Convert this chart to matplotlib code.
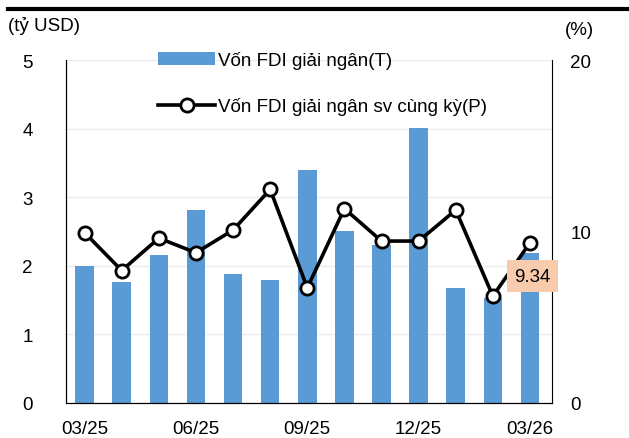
import matplotlib
matplotlib.use("Agg")
import matplotlib.pyplot as plt
import numpy as np

plt.rcParams['font.family'] = ['Liberation Sans', 'DejaVu Sans']

months = ['03/25', '04/25', '05/25', '06/25', '07/25', '08/25', '09/25',
          '10/25', '11/25', '12/25', '01/26', '02/26', '03/26']
fdi = [2.00, 1.77, 2.16, 2.82, 1.88, 1.79, 3.39, 2.50, 2.30, 4.01, 1.67, 1.53, 2.19]
growth = [9.93, 7.72, 9.61, 8.76, 10.08, 12.45, 6.71, 11.33, 9.44, 9.44, 11.25, 6.23, 9.34]
shown_ticks = ['03/25', '06/25', '09/25', '12/25', '03/26']

fig = plt.figure(figsize=(6.29, 4.39), dpi=100)
ax = fig.add_axes([0.105, 0.080, 0.773, 0.781])
ax2 = ax.twinx()

x = np.arange(len(months))
bars = ax.bar(x, fdi, width=0.5, color='#5B9BD5', zorder=2,
              label='Vốn FDI giải ngân(T)')
line, = ax2.plot(x, growth, color='black', lw=2.6, marker='o', ms=9.5,
                 mfc='white', mec='black', mew=2, zorder=3,
                 label='Vốn FDI giải ngân sv cùng kỳ(P)')

ax.set_xlim(-0.5, 12.6)
ax.set_ylim(0, 5)
ax2.set_ylim(0, 20)
ax.set_yticks([0, 1, 2, 3, 4, 5])
ax2.set_yticks([0, 10, 20])
ax.grid(axis='y', color='#EBEBEB', lw=1, zorder=0)
ax.set_axisbelow(True)

idx = [months.index(m) for m in shown_ticks]
ax.set_xticks(idx)
ax.set_xticklabels(shown_ticks)

for a in (ax, ax2):
    a.spines['top'].set_visible(False)
    a.tick_params(length=0, labelsize=13.5)
ax.tick_params(axis='y', pad=24)
ax.tick_params(axis='x', pad=12)
ax2.tick_params(axis='y', pad=13)
ax.spines['right'].set_visible(False)

ax2.annotate(f'{growth[-1]:.2f}', xy=(x[-1], growth[-1]), xytext=(2, -24),
             textcoords='offset points', ha='center', va='center', fontsize=13.5,
             bbox=dict(boxstyle='square,pad=0.4', fc='#F8CBAD', ec='none'))

fig.legend([bars, line], [bars.get_label(), line.get_label()],
           loc='upper left', bbox_to_anchor=(0.225, 0.92), frameon=False,
           fontsize=13.5, handlelength=3.0, handletextpad=0.2, labelspacing=1.5)

fig.text(0.013, 0.94, '(tỷ USD)', fontsize=13.5, va='center')
fig.text(0.898, 0.93, '(%)', fontsize=13.5, va='center')
fig.add_artist(plt.Line2D([0.013, 1.0], [0.977, 0.977], color='black', lw=3))

fig.savefig('out.png', dpi=100)
